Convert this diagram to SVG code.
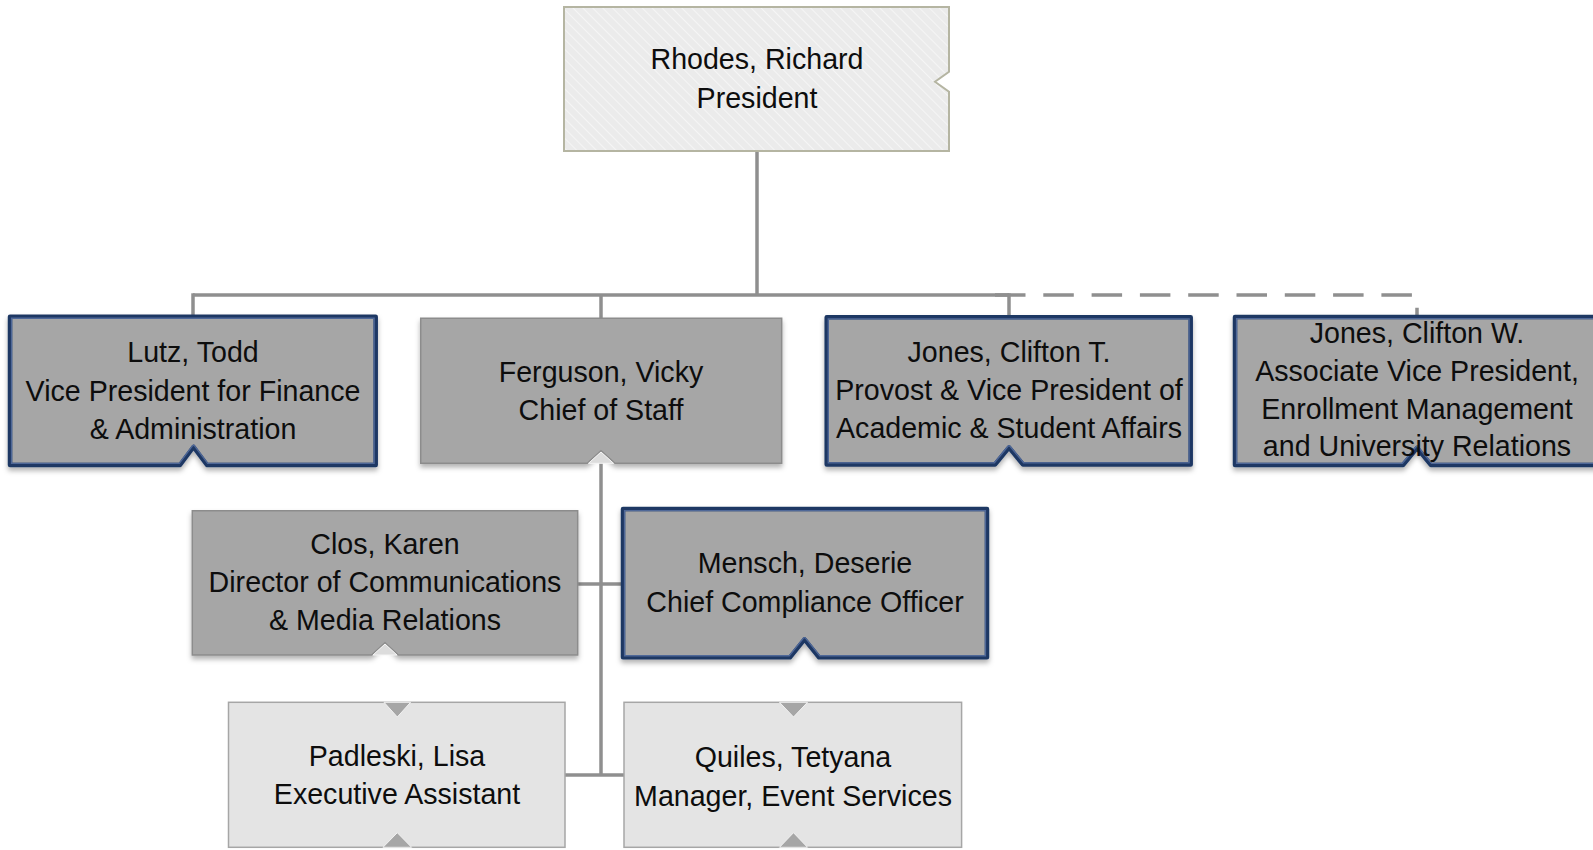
<svg xmlns="http://www.w3.org/2000/svg" xmlns:xlink="http://www.w3.org/1999/xlink" width="1593" height="850" viewBox="0 0 1593 850">
<style>
.t{font-family:"Liberation Sans",Arial,sans-serif;font-size:28.6px;fill:#0d0d0d;text-anchor:middle}
.conn{stroke:#8f8f8f;stroke-width:3.5;fill:none}
.dash{stroke:#8f8f8f;stroke-width:3.5;fill:none;stroke-dasharray:30.5 17.8}
.blue{fill:#a6a6a6;stroke:#1f3864;stroke-width:4.5;stroke-linejoin:round}
.blueIn{fill:none;stroke:#4f6898;stroke-width:4.5;stroke-linejoin:round}
.gray{fill:#a6a6a6;stroke:#8c8c8c;stroke-width:1.5}
.light{fill:#e4e4e4;stroke:#a6a6a6;stroke-width:1.5}
.tri{fill:#a6a6a6;stroke:#f2f2f2;stroke-width:1}
</style>
<defs>
<pattern id="stripes" width="7" height="7" patternUnits="userSpaceOnUse" patternTransform="rotate(-45)">
<rect width="7" height="7" fill="#ebebeb"/>
<line x1="0" y1="0" x2="0" y2="7" stroke="#f5f5f5" stroke-width="2"/>
</pattern>
<filter id="sh" x="-5%" y="-10%" width="112%" height="130%">
<feDropShadow dx="0" dy="3.5" stdDeviation="2.5" flood-color="#000" flood-opacity="0.3"/>
</filter>
<path id="p-lutz" d="M10,316.7 H375.7 V465 H207 L193.5,447 L180,465 H10 Z"/>
<path id="p-jonest" d="M826.7,317.3 H1190.7 V464.5 H1023 L1009,447.5 L995,464.5 H826.7 Z"/>
<path id="p-jonesw" d="M1235,317 H1600 V465 H1431 L1417,448 L1403,465 H1235 Z"/>
<path id="p-mensch" d="M623,509 H987 V657.3 H819 L804.5,639.3 L790,657.3 H623 Z"/>
<clipPath id="c-lutz"><use xlink:href="#p-lutz"/></clipPath>
<clipPath id="c-jonest"><use xlink:href="#p-jonest"/></clipPath>
<clipPath id="c-jonesw"><use xlink:href="#p-jonesw"/></clipPath>
<clipPath id="c-mensch"><use xlink:href="#p-mensch"/></clipPath>
</defs>
<rect width="1593" height="850" fill="#ffffff"/>

<g id="connectors">
<path class="conn" d="M757,151 V295"/>
<path class="conn" d="M193,295 H1009"/>
<path class="conn" d="M193,293.3 V317"/>
<path class="conn" d="M601,295 V318"/>
<path class="conn" d="M1009,293.3 V317"/>
<path class="dash" d="M995,295 H1417 V317"/>
<path class="conn" d="M601,463 V775"/>
<path class="conn" d="M577.7,584 H623"/>
<path class="conn" d="M565,775 H624"/>
</g>

<g id="node-rhodes">
<path d="M564,7 H949 V71.7 L935,81.7 L949,91.7 V151 H564 Z" fill="url(#stripes)" stroke="#b5b5a2" stroke-width="2"/>
<text class="t" x="757" y="68.5">Rhodes, Richard</text>
<text class="t" x="757" y="107.5">President</text>
</g>

<g id="node-lutz">
<use xlink:href="#p-lutz" class="blue" filter="url(#sh)"/>
<use xlink:href="#p-lutz" class="blueIn" clip-path="url(#c-lutz)"/>
<use xlink:href="#p-lutz" fill="none" stroke="#1f3864" stroke-width="1.8" stroke-linejoin="round"/>
<text class="t" x="193" y="362">Lutz, Todd</text>
<text class="t" x="193" y="400.5">Vice President for Finance</text>
<text class="t" x="193" y="438.5">&amp; Administration</text>
</g>

<g id="node-ferguson">
<path class="gray" d="M420.7,318.3 H781.7 V463.3 H615 L601,450.7 L587.3,463.3 H420.7 Z" filter="url(#sh)"/>
<path d="M588.5,463.3 L601,452 L613.5,463.3 Z" fill="#dcdcdc" stroke="#f5f5f5" stroke-width="1"/>
<text class="t" x="601" y="381.7">Ferguson, Vicky</text>
<text class="t" x="601" y="420">Chief of Staff</text>
</g>

<g id="node-jonest">
<use xlink:href="#p-jonest" class="blue" filter="url(#sh)"/>
<use xlink:href="#p-jonest" class="blueIn" clip-path="url(#c-jonest)"/>
<use xlink:href="#p-jonest" fill="none" stroke="#1f3864" stroke-width="1.8" stroke-linejoin="round"/>
<text class="t" x="1009" y="361.7">Jones, Clifton T.</text>
<text class="t" x="1009" y="400">Provost &amp; Vice President of</text>
<text class="t" x="1009" y="437.7">Academic &amp; Student Affairs</text>
</g>

<g id="node-jonesw">
<use xlink:href="#p-jonesw" class="blue" filter="url(#sh)"/>
<use xlink:href="#p-jonesw" class="blueIn" clip-path="url(#c-jonesw)"/>
<use xlink:href="#p-jonesw" fill="none" stroke="#1f3864" stroke-width="1.8" stroke-linejoin="round"/>
<text class="t" x="1417" y="343.3">Jones, Clifton W.</text>
<text class="t" x="1417" y="381">Associate Vice President,</text>
<text class="t" x="1417" y="418.5">Enrollment Management</text>
<text class="t" x="1417" y="456">and University Relations</text>
</g>

<g id="node-clos">
<path class="gray" d="M192.3,510.7 H577.7 V655 H398.3 L385,642.7 L371.7,655 H192.3 Z" filter="url(#sh)"/>
<path d="M373,655 L385,644 L397,655 Z" fill="#dcdcdc" stroke="#f5f5f5" stroke-width="1"/>
<text class="t" x="385" y="554">Clos, Karen</text>
<text class="t" x="385" y="592">Director of Communications</text>
<text class="t" x="385" y="630">&amp; Media Relations</text>
</g>

<g id="node-mensch">
<use xlink:href="#p-mensch" class="blue" filter="url(#sh)"/>
<use xlink:href="#p-mensch" class="blueIn" clip-path="url(#c-mensch)"/>
<use xlink:href="#p-mensch" fill="none" stroke="#1f3864" stroke-width="1.8" stroke-linejoin="round"/>
<text class="t" x="805" y="573.3">Mensch, Deserie</text>
<text class="t" x="805" y="611.7">Chief Compliance Officer</text>
</g>

<g id="node-padleski">
<rect class="light" x="228.5" y="702.3" width="336.5" height="145"/>
<path class="tri" d="M384,702.3 H410.6 L397.3,717 Z"/>
<path class="tri" d="M383,847.3 H411.6 L397.3,832.7 Z"/>
<text class="t" x="397" y="766">Padleski, Lisa</text>
<text class="t" x="397" y="804">Executive Assistant</text>
</g>

<g id="node-quiles">
<rect class="light" x="624" y="702.3" width="337.6" height="145"/>
<path class="tri" d="M779.5,702.3 H807.5 L793.5,717 Z"/>
<path class="tri" d="M779.5,847.3 H807.5 L793.5,832.7 Z"/>
<text class="t" x="793" y="767.3">Quiles, Tetyana</text>
<text class="t" x="793" y="806">Manager, Event Services</text>
</g>
</svg>
